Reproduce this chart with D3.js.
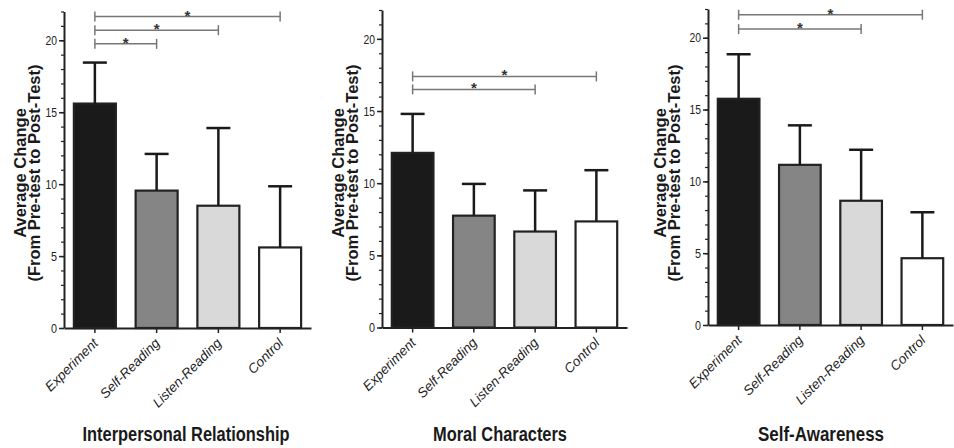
<!DOCTYPE html>
<html lang="en">
<head>
<meta charset="utf-8" />
<title>Average change by group</title>
<script src="https://cdn.jsdelivr.net/npm/d3@7/dist/d3.min.js"></script>
<style>
  body { margin: 0; background: #fff; }
  svg { display: block; }
  .tick-label { font-family: "Liberation Sans", Arial, sans-serif; font-size: 13px; fill: #222; }
  .cat-label { font-family: "Liberation Sans", Arial, sans-serif; font-size: 13.5px; font-style: italic; fill: #222; }
  .panel-title { font-family: "Liberation Sans", Arial, sans-serif; font-size: 20px; font-weight: bold; fill: #1a1a1a; }
  .y-title { font-family: "Liberation Sans", Arial, sans-serif; font-size: 16.5px; font-weight: bold; fill: #1a1a1a; }
  .star { font-family: "Liberation Sans", Arial, sans-serif; font-size: 15px; font-weight: bold; fill: #333; }
</style>
</head>
<body>
<svg width="954" height="448"></svg>
<script>
// groups on the x axis
var categories = ['Experiment', 'Self-Reading', 'Listen-Reading', 'Control'];
var panelTitles = ['Interpersonal Relationship', 'Moral Characters', 'Self-Awareness'];

// mean change per group, one array per panel
var interpersonalMeans = [15.6, 9.55, 8.5, 5.6];
var moralMeans = [12.1, 7.75, 6.65, 7.35];
var awarenessMeans = [15.75, 11.15, 8.65, 4.65];

// upper error (SD) per group
var interpersonalErr = [2.85, 2.55, 5.4, 4.25];
var moralErr = [2.7, 2.2, 2.85, 3.55];
var awarenessErr = [3.1, 2.75, 3.55, 3.2];

// significance brackets: [from group, to group, height]
var interpersonalSig = [[0, 1, 19.75], [0, 2, 20.7], [0, 3, 21.65]];
var moralSig = [[0, 2, 16.5], [0, 3, 17.4]];
var awarenessSig = [[0, 2, 20.6], [0, 3, 21.6]];

var yMax = 22;
var yTicks = [0, 5, 10, 15, 20];

var barColors = ['#1a1a1a', '#858585', '#d9d9d9', '#ffffff'];

var panels = [
  { title: panelTitles[0], means: interpersonalMeans, err: interpersonalErr, sig: interpersonalSig },
  { title: panelTitles[1], means: moralMeans, err: moralErr, sig: moralSig },
  { title: panelTitles[2], means: awarenessMeans, err: awarenessErr, sig: awarenessSig }
];

// where each panel sits on the page (titleW: squeeze the bold title to a narrow look)
var layout = [
  { x0: 64, x1: 311, top: 11.5, bottom: 328, titleOff: 24, titleX: 186, titleW: 207 },
  { x0: 382, x1: 627, top: 10, bottom: 327.5, titleOff: 24, titleX: 500, titleW: 134 },
  { x0: 708, x1: 953, top: 9, bottom: 325, titleOff: 28, titleX: 821, titleW: 126 }
];

var svg = d3.select('svg');

panels.forEach(function(p, k) {
  var L = layout[k];
  var g = svg.append('g');

  var x = d3.scaleBand()
    .domain(categories)
    .range([L.x0, L.x1])
    .paddingInner(0.32)
    .paddingOuter(0.16);

  var y = d3.scaleLinear()
    .domain([0, yMax])
    .range([L.bottom, L.top]);

  // y axis: minor ticks every unit, labelled ticks every 5
  var yAxisG = g.append('g').attr('transform', 'translate(' + L.x0 + ',0)');
  yAxisG.call(d3.axisLeft(y).tickValues(d3.range(0, yMax + 1)).tickSize(3).tickFormat(''))
    .call(function(s) { s.select('.domain').remove(); });
  yAxisG.selectAll('line').attr('stroke', '#222').attr('stroke-width', 1.2);

  var yMajor = g.append('g').attr('transform', 'translate(' + L.x0 + ',0)')
    .call(d3.axisLeft(y).tickValues(yTicks).tickSize(5).tickPadding(2).tickSizeOuter(0));
  yMajor.select('.domain').attr('stroke', '#222').attr('stroke-width', 2);
  yMajor.selectAll('.tick line').attr('stroke', '#222').attr('stroke-width', 1.5);
  yMajor.selectAll('.tick text')
    .attr('class', 'tick-label')
    .attr('font-family', null).attr('font-size', null)
    .attr('textLength', function(d) { return d < 10 ? 6 : 11.5; })
    .attr('lengthAdjust', 'spacingAndGlyphs');

  // bars
  g.selectAll('rect.bar')
    .data(p.means)
    .enter().append('rect')
    .attr('class', 'bar')
    .attr('x', function(d, i) { return x(categories[i]); })
    .attr('y', function(d) { return y(d); })
    .attr('width', x.bandwidth())
    .attr('height', function(d) { return y(0) - y(d); })
    .attr('fill', function(d, i) { return barColors[i]; })
    .attr('stroke', '#222')
    .attr('stroke-width', 2.2);

  // upper error bars
  var capHalf = 12;
  p.means.forEach(function(m, i) {
    var cx = x(categories[i]) + x.bandwidth() / 2;
    g.append('line')
      .attr('x1', cx).attr('x2', cx)
      .attr('y1', y(m)).attr('y2', y(m + p.err[i]))
      .attr('stroke', '#1a1a1a').attr('stroke-width', 2.5);
    g.append('line')
      .attr('x1', cx - capHalf).attr('x2', cx + capHalf)
      .attr('y1', y(m + p.err[i])).attr('y2', y(m + p.err[i]))
      .attr('stroke', '#1a1a1a').attr('stroke-width', 2.5);
  });

  // x axis
  var xAxisG = g.append('g').attr('transform', 'translate(0,' + L.bottom + ')')
    .call(d3.axisBottom(x).tickSize(5).tickSizeOuter(0).tickFormat(''));
  xAxisG.select('.domain').attr('stroke', '#222').attr('stroke-width', 2);
  xAxisG.selectAll('.tick line').attr('stroke', '#222').attr('stroke-width', 1.5);

  g.selectAll('text.cat-label')
    .data(categories)
    .enter().append('text')
    .attr('class', 'cat-label')
    .attr('text-anchor', 'end')
    .attr('transform', function(d) {
      return 'translate(' + (x(d) + x.bandwidth() / 2 + 4) + ',' + (L.bottom + 16) + ') rotate(-45)';
    })
    .text(function(d) { return d; });

  // significance brackets
  p.sig.forEach(function(s) {
    var xa = x(categories[s[0]]) + x.bandwidth() / 2;
    var xb = x(categories[s[1]]) + x.bandwidth() / 2;
    var yy = y(s[2]);
    var bg = g.append('g').attr('stroke', '#777').attr('stroke-width', 1.5);
    bg.append('line').attr('x1', xa).attr('x2', xb).attr('y1', yy).attr('y2', yy);
    bg.append('line').attr('x1', xa).attr('x2', xa).attr('y1', yy - 5).attr('y2', yy + 5);
    bg.append('line').attr('x1', xb).attr('x2', xb).attr('y1', yy - 5).attr('y2', yy + 5);
    g.append('text')
      .attr('class', 'star')
      .attr('x', (xa + xb) / 2)
      .attr('y', yy + 4)
      .attr('text-anchor', 'middle')
      .text('*');
  });

  // y axis title, two lines
  var cy = 173;
  var tx = L.x0 - L.titleOff;
  var yt = g.append('text')
    .attr('class', 'y-title')
    .attr('text-anchor', 'middle')
    .attr('transform', 'translate(' + tx + ',' + cy + ') rotate(-90)');
  yt.append('tspan').attr('x', 0).attr('dy', '-0.82em').text('Average Change');
  yt.append('tspan').attr('x', 0).attr('dy', '0.82em').text('(From Pre-test to Post-Test)');

  // panel title
  var tw = L.titleW;
  g.append('text')
    .attr('class', 'panel-title')
    .attr('x', L.titleX - tw / 2)
    .attr('y', 441)
    .attr('textLength', tw)
    .attr('lengthAdjust', 'spacingAndGlyphs')
    .text(p.title);
});
</script>
</body>
</html>
